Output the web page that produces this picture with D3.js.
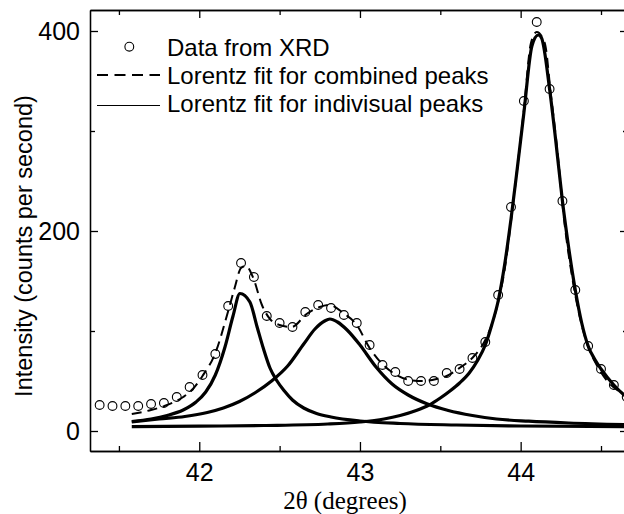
<!DOCTYPE html>
<html>
<head>
<meta charset="utf-8">
<script src="https://cdn.jsdelivr.net/npm/d3@7"></script>
<style>
  body { margin: 0; background: #fff; }
  svg { display: block; font-family: "Liberation Sans", Arial, sans-serif; }
</style>
</head>
<body>
<div id="chart"></div>
<script>
// XRD data points: 2theta (degrees) and intensity (counts per second)
const theta = [41.38, 41.46, 41.54, 41.62, 41.70, 41.78, 41.86, 41.94, 42.02, 42.10,
               42.18, 42.26, 42.34, 42.42, 42.50, 42.58, 42.66, 42.74, 42.82, 42.90,
               42.98, 43.06, 43.14, 43.22, 43.30, 43.38, 43.46, 43.54, 43.62, 43.70,
               43.78, 43.86, 43.94, 44.02, 44.10, 44.18, 44.26, 44.34, 44.42, 44.50,
               44.58, 44.66];
const counts = [26, 25, 25, 25, 27, 28, 34, 44, 56, 77,
                125, 168, 154, 115, 108, 104, 119, 126, 123, 116,
                108, 86, 66, 59, 50, 50, 50, 58, 62, 73,
                89, 136, 224, 330, 409, 342, 230, 141, 85, 62,
                46, 34];

// Lorentz fits: [2theta, intensity]
const peak1 = [[41.58, 9.5], [41.70, 12], [41.80, 15.5], [41.90, 21], [41.98, 29], [42.04, 39],
               [42.10, 56], [42.16, 84], [42.21, 115], [42.253, 137.5], [42.315, 129], [42.36, 104],
               [42.40, 82], [42.44, 63], [42.48, 51], [42.53, 40], [42.58, 31], [42.65, 23],
               [42.73, 17.5], [42.82, 14], [43.0, 10], [43.25, 7.5], [43.6, 6], [44.0, 5], [44.68, 4.3]];
const peak2 = [[41.58, 9], [41.75, 12], [41.91, 14.5], [42.05, 18.5], [42.15, 23], [42.25, 29.5],
               [42.35, 38.5], [42.45, 50], [42.55, 65], [42.65, 87], [42.72, 102], [42.78, 110],
               [42.813, 112], [42.86, 109], [42.92, 101], [43.00, 86], [43.10, 64], [43.20, 47],
               [43.30, 36], [43.42, 27], [43.55, 20.5], [43.70, 15.5], [43.85, 12], [44.05, 9.8],
               [44.30, 8], [44.68, 6.3]];
const peak3 = [[41.58, 4.3], [42.0, 4.8], [42.4, 5.5], [42.8, 7], [43.0, 9], [43.15, 12],
               [43.25, 15.5], [43.35, 20.5], [43.43, 26], [43.5, 33], [43.56, 40], [43.62, 48],
               [43.68, 58], [43.73, 70], [43.78, 86], [43.82, 106], [43.86, 130], [43.90, 166],
               [43.94, 212], [43.98, 264], [44.02, 318], [44.07, 385], [44.11, 396], [44.13, 393],
               [44.18, 342], [44.22, 288], [44.26, 230], [44.30, 182], [44.34, 141], [44.38, 108],
               [44.42, 85], [44.46, 72], [44.50, 62], [44.58, 46], [44.66, 34], [44.68, 32]];
const combined = [[41.58, 17], [41.70, 21], [41.80, 26], [41.90, 34], [41.96, 42], [42.02, 55],
                  [42.10, 78], [42.18, 120], [42.22, 143], [42.26, 163], [42.29, 165], [42.336, 153],
                  [42.39, 126], [42.44, 112], [42.50, 106], [42.575, 104], [42.668, 117], [42.75, 124],
                  [42.81, 126], [42.896, 118], [42.98, 106], [43.06, 83], [43.145, 66], [43.228, 56],
                  [43.31, 51], [43.39, 50], [43.477, 52], [43.54, 55], [43.62, 63], [43.705, 74],
                  [43.78, 91], [43.83, 111], [43.87, 136], [43.90, 161], [43.94, 210], [43.98, 264],
                  [44.02, 321], [44.064, 388], [44.10, 399], [44.15, 388], [44.187, 338], [44.228, 281],
                  [44.27, 212], [44.33, 145], [44.41, 89], [44.47, 67], [44.556, 47], [44.643, 37],
                  [44.68, 34]];

// Axis ticks
const xTicks = [42, 43, 44];
const xMinor = [41.5, 42.5, 43.5, 44.5];
const yTicks = [0, 200, 400];
const yMinor = [100, 300];

const legendLabels = ['Data from XRD', 'Lorentz fit for combined peaks', 'Lorentz fit for indivisual peaks'];

const width = 624, height = 514;
const plotLeft = 90, plotRight = 628, plotTop = 10, plotBottom = 451;

const svg = d3.select('#chart')
    .append('svg')
    .attr('width', width)
    .attr('height', height);

const x = d3.scaleLinear().domain([41.32, 44.668]).range([plotLeft, plotRight]);
const y = d3.scaleLinear().domain([-20, 421]).range([plotBottom, plotTop]);

svg.append('clipPath').attr('id', 'plot')
    .append('rect')
    .attr('x', plotLeft).attr('y', plotTop)
    .attr('width', plotRight - plotLeft).attr('height', plotBottom - plotTop);

const plot = svg.append('g').attr('clip-path', 'url(#plot)');

const line = d3.line()
    .x(d => x(d[0]))
    .y(d => y(d[1]))
    .curve(d3.curveMonotoneX);

// Individual peaks
[peak1, peak2, peak3].forEach(p => {
    plot.append('path')
        .attr('d', line(p))
        .attr('fill', 'none')
        .attr('stroke', '#000')
        .attr('stroke-width', 3.2)
        .attr('stroke-linejoin', 'round');
});

// Combined fit (dashed)
plot.append('path')
    .attr('d', line(combined))
    .attr('fill', 'none')
    .attr('stroke', '#000')
    .attr('stroke-width', 2)
    .attr('stroke-dasharray', '10,6');

// Data points
plot.selectAll('circle.pt')
    .data(theta.map((t, i) => [t, counts[i]]))
    .enter()
    .append('circle')
    .attr('class', 'pt')
    .attr('cx', d => x(d[0]))
    .attr('cy', d => y(d[1]))
    .attr('r', 4.4)
    .attr('fill', 'none')
    .attr('stroke', '#000')
    .attr('stroke-width', 1.1);

// Axes, ticks pointing inward
function styleAxis(g) {
    g.selectAll('.domain, line').attr('stroke', '#000').attr('stroke-width', 1.3);
    g.selectAll('text')
        .style('font-family', '"Liberation Sans", Arial, sans-serif')
        .style('font-size', '25px')
        .attr('fill', '#000');
}

svg.append('g').attr('transform', `translate(0,${plotBottom})`)
    .call(d3.axisBottom(x).tickValues(xTicks).tickSize(-9).tickSizeOuter(0)
        .tickPadding(12).tickFormat(d3.format('d')))
    .call(styleAxis);
svg.append('g').attr('transform', `translate(0,${plotBottom})`)
    .call(d3.axisBottom(x).tickValues(xMinor).tickSize(-5).tickSizeOuter(0).tickFormat(''))
    .call(styleAxis);
svg.append('g').attr('transform', `translate(0,${plotTop})`)
    .call(d3.axisTop(x).tickValues(xTicks).tickSize(-8).tickSizeOuter(0).tickFormat(''))
    .call(styleAxis);
svg.append('g').attr('transform', `translate(0,${plotTop})`)
    .call(d3.axisTop(x).tickValues(xMinor).tickSize(-5).tickSizeOuter(0).tickFormat(''))
    .call(styleAxis);

svg.append('g').attr('transform', `translate(${plotLeft},0)`)
    .call(d3.axisLeft(y).tickValues(yTicks).tickSize(-8).tickSizeOuter(0)
        .tickPadding(10).tickFormat(d3.format('d')))
    .call(styleAxis);
svg.append('g').attr('transform', `translate(${plotLeft},0)`)
    .call(d3.axisLeft(y).tickValues(yMinor).tickSize(-5).tickSizeOuter(0).tickFormat(''))
    .call(styleAxis);
svg.append('g').attr('transform', `translate(${plotRight},0)`)
    .call(d3.axisRight(y).tickValues(yTicks).tickSize(-8).tickSizeOuter(0).tickFormat(''))
    .call(styleAxis);
svg.append('g').attr('transform', `translate(${plotRight},0)`)
    .call(d3.axisRight(y).tickValues(yMinor).tickSize(-5).tickSizeOuter(0).tickFormat(''))
    .call(styleAxis);

// Axis titles
svg.append('text')
    .attr('transform', 'translate(32,246) rotate(-90)')
    .attr('text-anchor', 'middle')
    .style('font-size', '23.5px')
    .text('Intensity (counts per second)');

svg.append('text')
    .attr('x', 345)
    .attr('y', 509)
    .attr('text-anchor', 'middle')
    .style('font-family', '"Liberation Serif", "Times New Roman", serif')
    .style('font-size', '25px')
    .text('2θ (degrees)');

// Legend
const legend = svg.append('g');
legend.append('circle')
    .attr('cx', 129.3).attr('cy', 46.7).attr('r', 4.4)
    .attr('fill', 'none').attr('stroke', '#000').attr('stroke-width', 1.1);
legend.append('line')
    .attr('x1', 97).attr('x2', 160).attr('y1', 75).attr('y2', 75)
    .attr('stroke', '#000').attr('stroke-width', 2).attr('stroke-dasharray', '11,6.5');
legend.append('line')
    .attr('x1', 97).attr('x2', 160).attr('y1', 105.5).attr('y2', 105.5)
    .attr('stroke', '#000').attr('stroke-width', 1);
legend.selectAll('text')
    .data(legendLabels)
    .enter()
    .append('text')
    .attr('x', 167)
    .attr('y', (d, i) => 56 + i * 27.8)
    .style('font-size', '24px')
    .text(d => d);
</script>
</body>
</html>
